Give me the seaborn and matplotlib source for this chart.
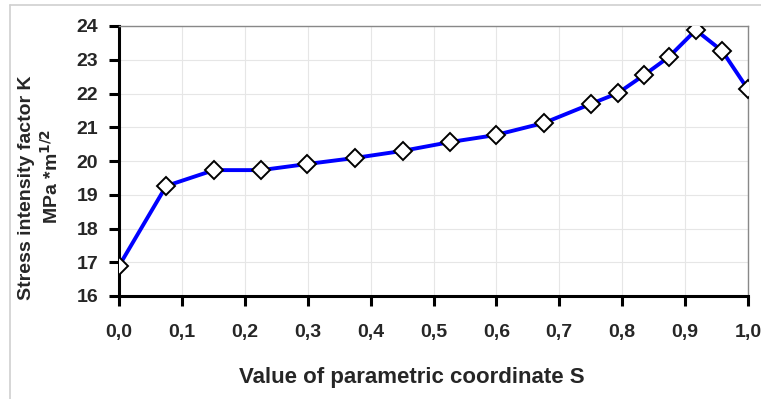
import matplotlib
matplotlib.use("Agg")
import matplotlib.pyplot as plt
import seaborn as sns
import pandas as pd
from matplotlib.lines import Line2D

s_values = [0.0, 0.075, 0.151, 0.226, 0.299, 0.375, 0.451, 0.526, 0.599, 0.676,
            0.750, 0.793, 0.835, 0.874, 0.917, 0.959, 1.0]
k_values = [16.89, 19.26, 19.73, 19.73, 19.91, 20.09, 20.30, 20.56, 20.77, 21.13,
            21.69, 22.01, 22.55, 23.08, 23.88, 23.26, 22.12]
x_ticks = [0.0, 0.1, 0.2, 0.3, 0.4, 0.5, 0.6, 0.7, 0.8, 0.9, 1.0]
x_tick_labels = ["0,0", "0,1", "0,2", "0,3", "0,4", "0,5", "0,6", "0,7", "0,8", "0,9", "1,0"]
y_ticks = [16, 17, 18, 19, 20, 21, 22, 23, 24]

df = pd.DataFrame({"S": s_values, "K": k_values})

sns.set_theme(style="white")
plt.rcParams['font.family'] = ['Liberation Sans', 'DejaVu Sans']

fig = plt.figure(figsize=(7.61, 3.99), dpi=100)
ax = fig.add_axes([119/761, 1-296/399, (748-119)/761, (296-26)/399])

sns.lineplot(data=df, x="S", y="K", ax=ax, color="#0000ff", linewidth=2.8,
             marker="D", markersize=9.5, markerfacecolor="white",
             markeredgecolor="black", markeredgewidth=1.4, zorder=3)

ax.set_xlim(0, 1.0)
ax.set_ylim(16, 24)
ax.set_xticks(x_ticks)
ax.set_xticklabels(x_tick_labels, fontsize=14, fontweight="bold")
ax.set_yticks(y_ticks)
ax.set_yticklabels([str(v) for v in y_ticks], fontsize=14, fontweight="bold")
ax.grid(True, color="#e6e6e6", linewidth=0.8)
ax.set_axisbelow(True)

for side in ["left", "bottom"]:
    ax.spines[side].set_color("black")
    ax.spines[side].set_linewidth(2.2)
for side in ["top", "right"]:
    ax.spines[side].set_color("#888888")
    ax.spines[side].set_linewidth(1.0)

ax.tick_params(axis="both", which="both", direction="out", length=7, width=2.2,
               color="black", bottom=True, left=True)
ax.tick_params(axis="y", pad=8)
ax.tick_params(axis="x", pad=13)

ax.set_xlabel("")
ax.set_ylabel("")
fig.text(412/761, 1-378/399, "Value of parametric coordinate S", ha="center", va="center",
         fontsize=16, fontweight="bold")
fig.text(27/761, 1-188/399, "Stress intensity factor K", ha="center", va="center",
         rotation=90, fontsize=14, fontweight="bold")
fig.text(51/761, 1-177/399, r"MPa *m$^{\mathbf{1/2}}$", ha="center", va="center",
         rotation=90, fontsize=14, fontweight="bold")

fig.add_artist(Line2D([10/761, 1.0], [1-5/399, 1-5/399], color="#d0d0d0", linewidth=1.2,
                      transform=fig.transFigure))
fig.add_artist(Line2D([10/761, 10/761], [0, 1-5/399], color="#d0d0d0", linewidth=1.2,
                      transform=fig.transFigure))

fig.savefig("out.png", dpi=100)
